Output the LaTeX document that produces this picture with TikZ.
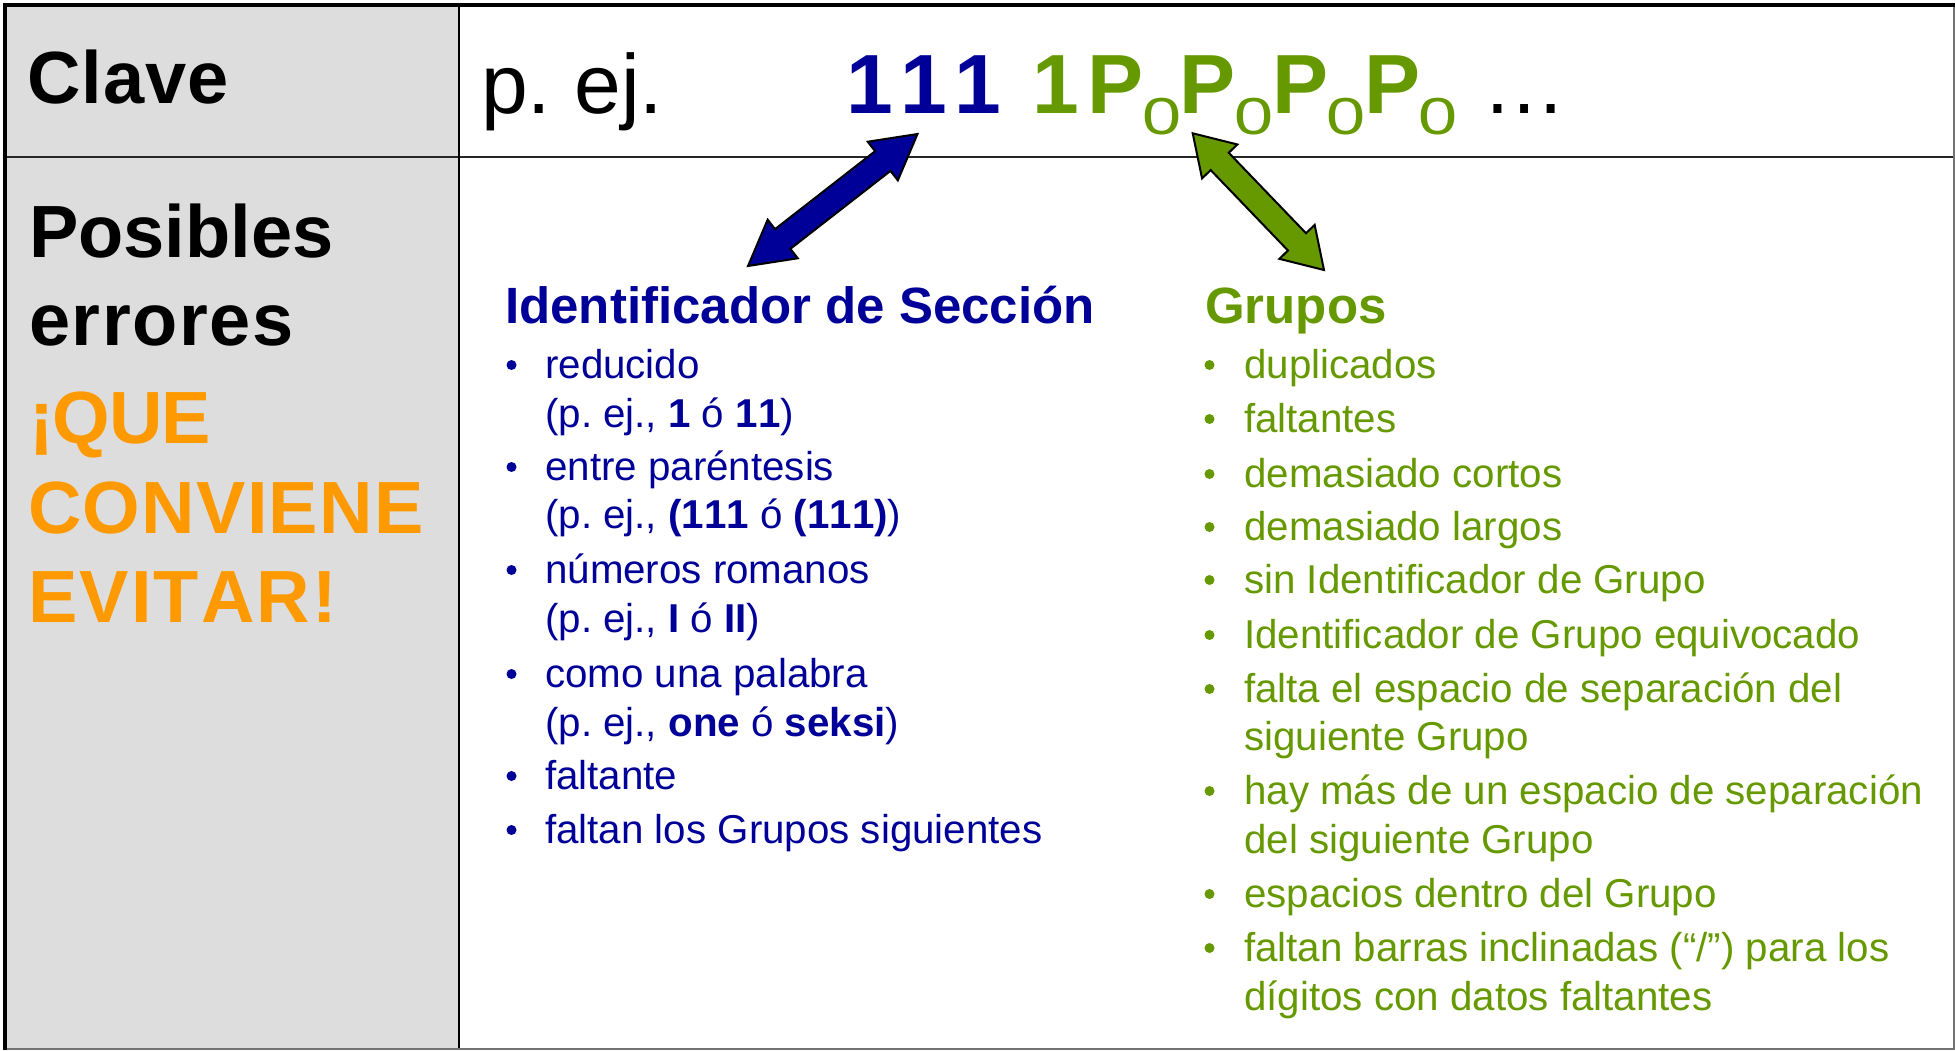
\documentclass[tikz,border=0pt]{standalone}
\usepackage{fontspec}
\setmainfont{Liberation Sans}[Kerning=Off]
\newfontfamily\leftfont{Liberation Sans}[Kerning=Off]
\usetikzlibrary{calc}
\frenchspacing
\definecolor{cblue}{HTML}{000099}
\definecolor{cgreen}{HTML}{669900}
\definecolor{corange}{HTML}{FF9900}
\definecolor{cgrey}{HTML}{DDDDDD}
\newcommand\subzero{\kern-1.5pt\raisebox{-21.5pt}{\scalebox{1.35}[1]{\fontsize{52}{52}\mdseries\selectfont 0}}\kern-1.5pt}
\newcommand\lsp[1]{\addfontfeatures{LetterSpace=#1}}
\begin{document}
\begin{tikzpicture}[x=1pt,y=-1pt,
  lbl/.style={inner sep=0pt, anchor=base west},
  lefthead/.style={lbl, font=\fontsize{74}{74}\leftfont\bfseries},
  toprow/.style={lbl, font=\fontsize{84}{84}\selectfont},
  colhead/.style={lbl, font=\fontsize{51}{51}\selectfont\bfseries},
  bluetext/.style={lbl, text=cblue, font=\fontsize{40.3}{48}\selectfont},
  greentext/.style={lbl, text=cgreen, font=\fontsize{40.3}{48}\selectfont},
  blockarrow/.style={draw=black, line width=2pt, line join=miter}]
\useasboundingbox (0,0) rectangle (1955,1050);
% table
\fill[cgrey] (5,5) rectangle (459,1049);
\draw[line width=2pt, black!85] (5,157) -- (1954,157);
\draw[line width=2pt] (459,5) -- (459,1049);
\draw[line width=1.5pt, black!55] (3,1049) -- (1954,1049) -- (1954,5);
\draw[line width=3.5pt] (5,1050) -- (5,5) -- (1955,5);
% left column
\node[lefthead] (clave) at (27,103) {\lsp{1.4}Clave};
\node[lefthead] (pos) at (29,257) {Posibles};
\node[lefthead] (err) at (29,345) {\lsp{2.1}errores};
\node[lefthead, text=corange] (que) at (29,443) {\lsp{-1.5}¡QUE};
\node[lefthead, text=corange] (conv) at (28,533) {\lsp{1.7}CONVIENE};
\node[lefthead, text=corange] (evit) at (28,622) {\lsp{2.9}EVITAR!};
% top row
\node[toprow] (pej) at (481,113) {p. ej.};
\node[toprow, font=\fontsize{84}{84}\selectfont\bfseries, text=cblue] (sec) at (846,113) {1\kern7.5pt 1\kern7.5pt 1};
\node[toprow, font=\fontsize{84}{84}\selectfont\bfseries, text=cgreen] (grp) at (1032,113) {1\kern9pt P\subzero P\subzero P\subzero P\subzero};
\node[toprow] (dots) at (1482,113) {…};
% column headings
\node[colhead, text=cblue] (hsec) at (505,323) {Identificador de Sección};
\node[colhead, text=cgreen] (hgrp) at (1205,323) {Grupos};
% blue list
\node[bluetext] (b1) at (545,378) {reducido};
\node[bluetext] (b1b) at (545,427) {(p. ej., \textbf{1} ó \textbf{11})};
\node[bluetext] (b2) at (545,480) {entre paréntesis};
\node[bluetext] (b2b) at (545,528) {(p. ej., \textbf{(111} ó \textbf{(111)})};
\node[bluetext] (b3) at (545,583) {números romanos};
\node[bluetext] (b3b) at (545,632) {(p. ej., \textbf{I} ó \textbf{II})};
\node[bluetext] (b4) at (545,687) {como una palabra};
\node[bluetext] (b4b) at (545,736) {(p. ej., \textbf{one} ó \textbf{seksi})};
\node[bluetext] (b5) at (545,789) {faltante};
\node[bluetext] (b6) at (545,843) {faltan los Grupos siguientes};
\foreach \yy in {378,480,583,687,789,843} \fill[cblue] (511.5,\yy-13) circle (5);
% green list
\node[greentext] (g1) at (1244,378) {duplicados};
\node[greentext] (g2) at (1244,432) {faltantes};
\node[greentext] (g3) at (1244,487) {demasiado cortos};
\node[greentext] (g4) at (1244,540) {demasiado largos};
\node[greentext] (g5) at (1244,593) {sin Identificador de Grupo};
\node[greentext] (g6) at (1244,648) {Identificador de Grupo equivocado};
\node[greentext] (g7) at (1244,702) {falta el espacio de separación del};
\node[greentext] (g7b) at (1244,750) {siguiente Grupo};
\node[greentext] (g8) at (1244,804) {hay más de un espacio de separación};
\node[greentext] (g8b) at (1244,853) {del siguiente Grupo};
\node[greentext] (g9) at (1244,907) {espacios dentro del Grupo};
\node[greentext] (g10) at (1244,961) {faltan barras inclinadas (“/”) para los};
\node[greentext] (g10b) at (1244,1010) {dígitos con datos faltantes};
\foreach \yy in {378,432,487,540,593,648,702,804,907,961} \fill[cgreen] (1209.5,\yy-13) circle (5);
% blue double arrow
\coordinate (bA) at (917.5,134);
\coordinate (bB) at (748,266);
\coordinate (bHa) at ($(bA)!44pt!(bB)$);
\coordinate (bHb) at ($(bB)!44pt!(bA)$);
\filldraw[blockarrow, fill=cblue] (bA) -- ($(bHa)!24.5pt!90:(bB)$) -- ($(bHa)!12.5pt!90:(bB)$)
  -- ($(bHb)!12.5pt!-90:(bA)$) -- ($(bHb)!24.5pt!-90:(bA)$) -- (bB)
  -- ($(bHb)!24.5pt!90:(bA)$) -- ($(bHb)!12.5pt!90:(bA)$)
  -- ($(bHa)!12.5pt!-90:(bB)$) -- ($(bHa)!24.5pt!-90:(bB)$) -- cycle;
% green double arrow
\coordinate (gA) at (1192.7,133.3);
\coordinate (gB) at (1324,270);
\coordinate (gHa) at ($(gA)!39pt!(gB)$);
\coordinate (gHb) at ($(gB)!39pt!(gA)$);
\filldraw[blockarrow, fill=cgreen] (gA) -- ($(gHa)!24.5pt!90:(gB)$) -- ($(gHa)!12.5pt!90:(gB)$)
  -- ($(gHb)!12.5pt!-90:(gA)$) -- ($(gHb)!24.5pt!-90:(gA)$) -- (gB)
  -- ($(gHb)!24.5pt!90:(gA)$) -- ($(gHb)!12.5pt!90:(gA)$)
  -- ($(gHa)!12.5pt!-90:(gB)$) -- ($(gHa)!24.5pt!-90:(gB)$) -- cycle;
\end{tikzpicture}
\end{document}
